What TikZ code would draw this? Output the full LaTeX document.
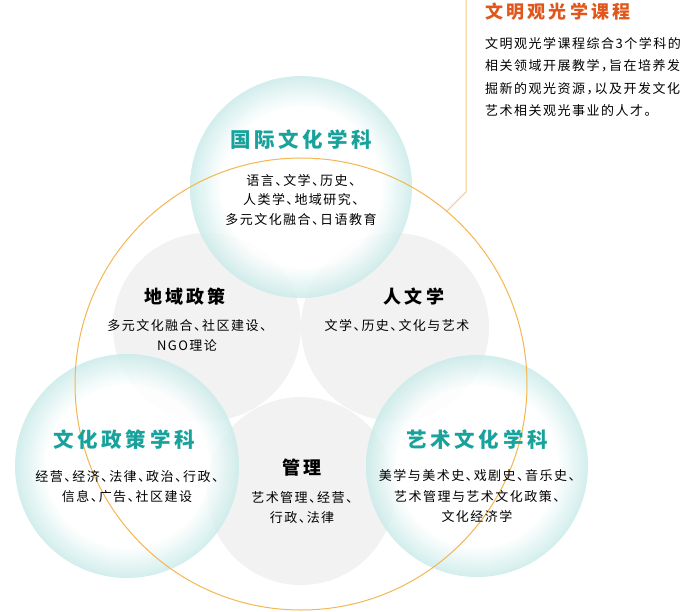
\documentclass[tikz,border=0pt]{standalone}
\usepackage{fontspec}
\setmainfont{Noto Sans CJK SC}
\newfontfamily\headfont[LetterSpace=18]{Noto Sans CJK SC}
\newfontfamily\bodyfont[LetterSpace=11.5,RawFeature=+halt]{Noto Sans CJK SC}
\newfontfamily\notefont[LetterSpace=11.5,RawFeature=+halt]{Noto Sans CJK SC}
\usepackage{tikz}
\usepackage{tkz-euclide}

\definecolor{kteal}{HTML}{18A29C}
\definecolor{kbubble}{HTML}{52BEB9}
\definecolor{kbubblea}{HTML}{BDE6E4}
\definecolor{kbubbleb}{HTML}{8ED4D0}
\definecolor{kgray}{HTML}{F1F1F1}
\definecolor{korange}{HTML}{E0561B}
\definecolor{kline}{HTML}{F4B650}

\pgfdeclareradialshading{bubble}{\pgfpoint{0bp}{0bp}}{color(0bp)=(white); color(18bp)=(white); color(27bp)=(kbubblea); color(33bp)=(kbubble); color(36bp)=(kbubbleb); color(50bp)=(kbubbleb)}

\tikzset{
  gray disc/.style={fill=kgray, opacity=0.95},
  teal disc/.style={shading=bubble, opacity=0.88},
  maintitle/.style={font=\headfont\bfseries\fontsize{20.5}{24}\selectfont, text=kteal, inner sep=0pt},
  subtitle/.style={font=\headfont\bfseries\fontsize{18}{22}\selectfont, text=black, inner sep=0pt},
  fieldtext/.style={font=\bodyfont\fontsize{13}{20}\selectfont, align=center, inner sep=0pt},
}

\begin{document}
\begin{tikzpicture}[x=1pt, y=1pt]
            \useasboundingbox (0,-611) rectangle (682,0);
            \tkzDefPoints{301/-384/O, 301/-610/B, 207/-327/D_1, 395/-327/D_2, 301/-491/D_3}
            \tkzDefPoints{301/-187/T_1, 127/-466/T_2, 477/-466/T_3}
            \tkzDefPoints{466/0/L_1, 466/-192/L_2, 446/-212/L_3}
            % gray circles
            \fill[gray disc] (D_1) circle (94);
            \fill[gray disc] (D_2) circle (94);
            \fill[gray disc] (D_3) circle (94);
            % teal circles
            \shade[teal disc] (T_1) circle (111);
            \shade[teal disc] (T_2) circle (112);
            \shade[teal disc] (T_3) circle (111);
            % orange ring and callout
            \tkzDrawCircle[kline, line width=1pt](O,B)
            \draw[kline!75, line width=1pt] (L_1) -- (L_2) -- (L_3);
            % labels
            \node[maintitle] (gjT) at (301,-140) {国际文化学科};
            \node[fieldtext, font=\bodyfont\fontsize{13}{19.5}\selectfont] (gjB) at (301,-200) {语言、文学、历史、\\人类学、地域研究、\\多元文化融合、日语教育};
            \node[maintitle] (zcT) at (124,-440) {文化政策学科};
            \node[fieldtext] (zcB) at (127,-487) {经营、经济、法律、政治、行政、\\信息、广告、社区建设};
            \node[maintitle] (ysT) at (477,-440) {艺术文化学科};
            \node[fieldtext, font=\bodyfont\fontsize{13}{20.5}\selectfont] (ysB) at (477,-496) {美学与美术史、戏剧史、音乐史、\\艺术管理与艺术文化政策、\\文化经济学};
            \node[subtitle] (dyT) at (185,-297) {地域政策};
            \node[fieldtext] (dyB) at (187,-335) {多元文化融合、社区建设、\\NGO理论};
            \node[subtitle] (rwT) at (414,-297) {人文学};
            \node[fieldtext] (rwB) at (397,-325) {文学、历史、文化与艺术};
            \node[subtitle] (glT) at (302,-468) {管理};
            \node[fieldtext] (glB) at (302,-508) {艺术管理、经营、\\行政、法律};
            \node[subtitle, text=korange, anchor=west] (kcT) at (485,-12) {文明观光学课程};
            \node[font=\notefont\fontsize{13}{22.3}\selectfont, align=left, anchor=west, inner sep=0pt] (kcB) at (485,-77) {文明观光学课程综合3个学科的\\相关领域开展教学，旨在培养发\\掘新的观光资源，以及开发文化\\艺术相关观光事业的人才。};
        \end{tikzpicture}
\end{document}
